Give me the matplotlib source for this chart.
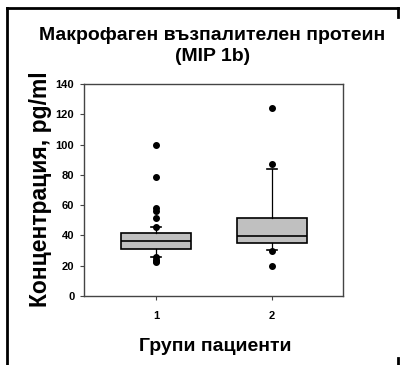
import matplotlib
matplotlib.use('Agg')
from matplotlib import pyplot as plt
from matplotlib.lines import Line2D

plt.rcParams['font.family'] = ['Liberation Sans', 'DejaVu Sans']
plt.rcParams['font.weight'] = 'bold'

# data
groups = ['1', '2']
q1 = [31.3, 35.2]
medians = [36.6, 39.6]
q3 = [41.8, 51.7]
whis_lo = [25.8, 30.4]
whis_hi = [45.8, 84.0]
fliers_1 = [99.7, 78.8, 58.0, 56.0, 51.7, 45.4, 25.5, 24.0, 23.0, 22.5]
fliers_2 = [124.0, 87.0, 29.5, 19.5]
yticks = [0, 20, 40, 60, 80, 100, 120, 140]

stats = []
for i, g in enumerate(groups):
    stats.append({
        'label': g,
        'q1': q1[i], 'med': medians[i], 'q3': q3[i],
        'whislo': whis_lo[i], 'whishi': whis_hi[i],
        'fliers': [fliers_1, fliers_2][i],
    })

fig = plt.figure(figsize=(4.01, 3.65), dpi=100)
ax = fig.add_axes([0.2095, 0.189, 0.6455, 0.581])

ax.bxp(stats, positions=[1, 2], widths=0.6, capwidths=0.09, patch_artist=True,
       boxprops=dict(facecolor='#c0c0c0', edgecolor='black', linewidth=1.2),
       medianprops=dict(color='black', linewidth=1.2),
       whiskerprops=dict(color='black', linewidth=0.9),
       capprops=dict(color='black', linewidth=1.2),
       flierprops=dict(marker='o', markerfacecolor='black', markeredgecolor='black', markersize=4))

ax.set_xlim(0.38, 2.61)
ax.set_ylim(0, 140)
ax.set_yticks(yticks)
ax.set_xticks([1, 2])
ax.set_xticklabels(groups)
ax.tick_params(axis='both', labelsize=8, length=3, width=0.8, color='#444444', pad=4)
ax.tick_params(axis='x', pad=8)
for s in ax.spines.values():
    s.set_color('#444444')
    s.set_linewidth(1.0)

ax.set_ylabel('Концентрация, pg/ml', fontsize=16.5, fontweight='bold')
ax.yaxis.set_label_coords(-0.17, 0.505)
ax.yaxis.label.set_va('center')
ax.set_xlabel('Групи пациенти', fontsize=14, fontweight='bold')
ax.xaxis.set_label_coords(0.506, -0.236)
ax.xaxis.label.set_va('center')
fig.text(0.53, 0.875, 'Макрофаген възпалителен протеин\n(MIP 1b)', ha='center', va='center',
         fontsize=14, fontweight='bold', linespacing=1.3)

# frame lines around the figure
fig.add_artist(Line2D([0.018, 0.018], [0.0, 0.977], color='black', lw=2))
fig.add_artist(Line2D([0.018, 0.993], [0.977, 0.977], color='black', lw=2))
fig.add_artist(Line2D([0.993, 0.993], [0.977, 0.953], color='black', lw=2))
fig.add_artist(Line2D([0.993, 0.993], [0.0, 0.02], color='black', lw=2))

fig.savefig('out.png', dpi=100)
